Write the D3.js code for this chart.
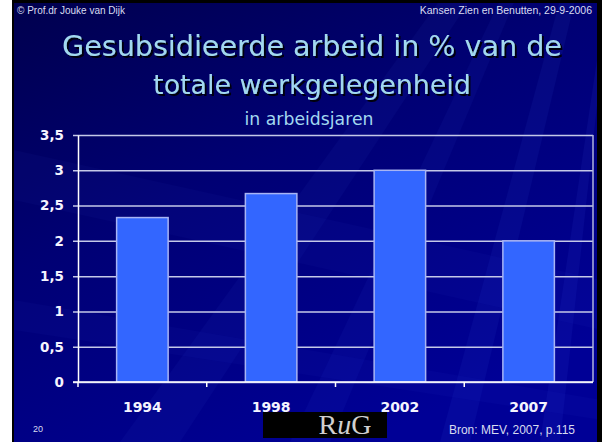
<!DOCTYPE html>
<html>
<head>
<meta charset="utf-8">
<script src="https://cdn.jsdelivr.net/npm/d3@7"></script>
<style>
  body { margin: 0; background: #fff; }
  svg { display: block; }
</style>
</head>
<body>
<div id="chart"></div>
<script>
"use strict";

// data
var years = ["1994", "1998", "2002", "2007"];
var values = [2.33, 2.67, 3.0, 2.0];
var yTicks = [0, 0.5, 1, 1.5, 2, 2.5, 3, 3.5];

var W = 602, H = 442;

// plot area
var margin = {top: 135, right: 9, bottom: 60, left: 78},
  width = W - margin.left - margin.right,
  height = H - margin.top - margin.bottom;

var svg = d3.select("#chart")
  .append("svg")
  .attr("width", W)
  .attr("height", H);

// background of the slide
var defs = svg.append("defs");
var bg = defs.append("linearGradient")
  .attr("id", "bg")
  .attr("x1", "0%").attr("y1", "0%")
  .attr("x2", "60%").attr("y2", "100%");
bg.append("stop").attr("offset", "0%").attr("stop-color", "#00004e");
bg.append("stop").attr("offset", "45%").attr("stop-color", "#000074");
bg.append("stop").attr("offset", "100%").attr("stop-color", "#000096");

// drop shadow for the title
var shadow = defs.append("filter").attr("id", "shadow")
  .attr("x", "-5%").attr("y", "-20%").attr("width", "110%").attr("height", "140%");
shadow.append("feDropShadow")
  .attr("dx", 2).attr("dy", 2).attr("stdDeviation", 0.4)
  .attr("flood-color", "#000010").attr("flood-opacity", 1);

svg.append("rect").attr("width", W).attr("height", H).attr("fill", "#000");
svg.append("rect")
  .attr("x", 14).attr("y", 3)
  .attr("width", 583).attr("height", H - 3)
  .attr("fill", "url(#bg)");
svg.append("rect").attr("x", 0).attr("y", 0).attr("width", 12).attr("height", H).attr("fill", "#fff");

// a few faint streaks like the slide template
defs.append("clipPath").attr("id", "clip")
  .append("rect").attr("x", 14).attr("y", 3).attr("width", 583).attr("height", H - 3);
var rays = svg.append("g").attr("clip-path", "url(#clip)");
var streaks = [
  [[440, 0], [470, 0], [180, 442], [120, 442], 0.05],
  [[500, 0], [515, 0], [330, 442], [290, 442], 0.06],
  [[560, 0], [575, 0], [470, 442], [440, 442], 0.07],
  [[600, 40], [602, 60], [560, 442], [540, 442], 0.08],
  [[14, 150], [14, 200], [602, 330], [602, 280], 0.04],
  [[14, 300], [14, 330], [602, 420], [602, 400], 0.04]
];
streaks.forEach(function(s) {
  rays.append("path")
    .attr("d", "M" + s.slice(0, 4).map(function(p) { return p.join(","); }).join("L") + "Z")
    .attr("fill", "#4a6cff")
    .attr("opacity", s[4]);
});

// header texts
svg.append("text")
  .attr("x", 17).attr("y", 14)
  .style("font-family", "Liberation Sans, Arial, sans-serif")
  .style("font-size", "10px")
  .style("fill", "#d8dcf0")
  .text("© Prof.dr Jouke van Dijk");

svg.append("text")
  .attr("x", 592).attr("y", 14)
  .attr("text-anchor", "end")
  .style("font-family", "Liberation Sans, Arial, sans-serif")
  .style("font-size", "10.5px")
  .style("fill", "#d8dcf0")
  .text("Kansen Zien en Benutten, 29-9-2006");

// title, font size fitted to the width seen on the slide
function fitted(txt, x, y, targetW, startSize, withShadow) {
  var t = svg.append("text")
    .attr("x", x).attr("y", y)
    .attr("text-anchor", "middle")
    .style("font-family", "DejaVu Sans, sans-serif")
    .style("fill", "#a2d8f0")
    .style("font-size", startSize + "px")
    .text(txt);
  var len = t.node().getComputedTextLength();
  t.style("font-size", (startSize * targetW / len) + "px");
  if (withShadow) t.attr("filter", "url(#shadow)");
}
fitted("Gesubsidieerde arbeid in % van de", 312, 56, 500, 26, true);
fitted("totale werkgelegenheid", 312, 94, 318, 26, true);
fitted("in arbeidsjaren", 309, 125, 129, 16, false);

var plot = svg.append("g")
  .attr("transform", "translate(" + margin.left + "," + margin.top + ")");

// scales
var x = d3.scaleBand()
  .domain(years)
  .range([0, width])
  .paddingInner(0.6)
  .paddingOuter(0.3);

var y = d3.scaleLinear()
  .domain([0, 3.5])
  .range([height, 0]);

// gridlines (with the small outward tick on the left)
plot.append("g")
  .call(d3.axisLeft(y).tickValues(yTicks).tickSize(-width - 5).tickFormat(""))
  .attr("transform", "translate(-5,0)")
  .call(function(g) {
    g.select(".domain").remove();
    g.selectAll(".tick line")
      .attr("stroke", "#c4c8e8")
      .attr("stroke-width", 1.5)
      .attr("x2", width + 5);
  });

// right border of the plot
plot.append("line")
  .attr("x1", width).attr("x2", width)
  .attr("y1", 0).attr("y2", height)
  .attr("stroke", "#b0b4dc")
  .attr("stroke-width", 1.5);

// bars
plot.selectAll(".bar")
  .data(values)
  .enter()
  .append("rect")
  .attr("class", "bar")
  .attr("x", function(d, i) { return x(years[i]); })
  .attr("y", function(d) { return y(d); })
  .attr("width", x.bandwidth())
  .attr("height", function(d) { return height - y(d); })
  .style("fill", "#3366ff")
  .style("stroke", "#a8b4f4")
  .style("stroke-width", 1.5);

// y axis
plot.append("g")
  .call(d3.axisLeft(y).tickValues(yTicks).tickSize(0).tickPadding(14)
    .tickFormat(function(d) { return String(d).replace(".", ","); }))
  .call(function(g) {
    g.select(".domain").attr("stroke", "#fff").attr("stroke-width", 1.5);
    g.selectAll("text")
      .style("font-family", "DejaVu Sans, sans-serif")
      .style("font-weight", "bold")
      .style("font-size", "13.5px")
      .style("fill", "#f4f4ff");
  });

// x axis with ticks between the categories
var xAxis = plot.append("g")
  .attr("transform", "translate(0," + height + ")");
xAxis.append("line")
  .attr("x1", -5).attr("x2", width)
  .attr("stroke", "#fff").attr("stroke-width", 1.5);
xAxis.selectAll(".xt")
  .data(years)
  .enter()
  .append("line")
  .attr("class", "xt")
  .attr("x1", function(d) { return x(d) - (x.step() - x.bandwidth()) / 2; })
  .attr("x2", function(d) { return x(d) - (x.step() - x.bandwidth()) / 2; })
  .attr("y1", 0).attr("y2", 5)
  .attr("stroke", "#fff").attr("stroke-width", 1.5);
xAxis.selectAll(".xl")
  .data(years)
  .enter()
  .append("text")
  .attr("class", "xl")
  .attr("x", function(d) { return x(d) + x.bandwidth() / 2; })
  .attr("y", 30)
  .attr("text-anchor", "middle")
  .style("font-family", "DejaVu Sans, sans-serif")
  .style("font-weight", "bold")
  .style("font-size", "14px")
  .style("fill", "#f4f4ff")
  .text(function(d) { return d; });

// footer
svg.append("text")
  .attr("x", 33).attr("y", 432)
  .style("font-family", "Liberation Sans, Arial, sans-serif")
  .style("font-size", "9px")
  .style("fill", "#d8dcf0")
  .text("20");

svg.append("rect")
  .attr("x", 263).attr("y", 412)
  .attr("width", 124).attr("height", 26)
  .attr("fill", "#000");
var rug = svg.append("text")
  .attr("x", 345).attr("y", 434)
  .attr("text-anchor", "middle")
  .style("font-family", "Liberation Serif, serif")
  .style("font-size", "28px")
  .style("fill", "#d0d0d0");
rug.append("tspan").text("R");
rug.append("tspan").style("font-style", "italic").text("u");
rug.append("tspan").text("G");

svg.append("text")
  .attr("x", 575).attr("y", 434)
  .attr("text-anchor", "end")
  .style("font-family", "Liberation Sans, Arial, sans-serif")
  .style("font-size", "12px")
  .style("fill", "#d8dcf0")
  .text("Bron: MEV, 2007, p.115");
</script>
</body>
</html>
